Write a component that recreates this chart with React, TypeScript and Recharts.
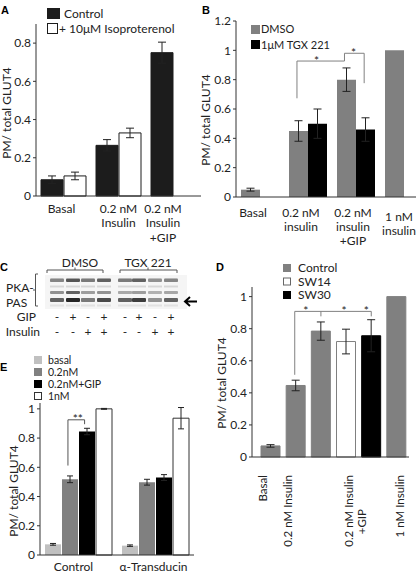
import React from 'react';
import { BarChart, Bar, XAxis, YAxis, ErrorBar, Cell } from 'recharts';

const FONT = 'Lato, "Open Sans", sans-serif';
const INK = '#222';
const AXIS = '#333';

// ---- panel A ----
const aCategories = ['Basal', '0.2 nM\nInsulin', '0.2 nM\nInsulin\n+GIP'];
const aControl = [0.085, 0.265, 0.75];
const aControlErr = [0.02, 0.03, 0.055];
const aIso = [0.105, 0.33, null];
const aIsoErr = [0.02, 0.025, null];
const aTicks = [0, 0.2, 0.4, 0.6, 0.8];

// ---- panel B ----
const bCategories = ['Basal', '0.2 nM\ninsulin', '0.2 nM\ninsulin\n+GIP', '1 nM\ninsulin'];
const bDmso = [0.05, 0.45, 0.8, 1.0];
const bDmsoErr = [0.01, 0.07, 0.08, 0];
const bTgx = [null, 0.5, 0.46, null];
const bTgxErr = [null, 0.1, 0.08, null];
const bTicks = [0, 0.2, 0.4, 0.6, 0.8, 1, 1.2];
// significance brackets: x in category units, y in data units
const bBrackets = [
  [[1.27, 0.673], [1.27, 0.927], [2.26, 0.927], [2.26, 0.98], [2.67, 0.98], [2.67, 0.776]],
];
const bStars = [[1.68, 0.927], [2.45, 0.98]];

// ---- panel C (blot) ----
const blotLanes = [57, 73, 88, 104, 125, 139, 155, 171];
const blotTop = [0.5, 0.7, 0.55, 0.65, 0.55, 0.65, 0.45, 0.5];
const blotUpper = [0.45, 0.65, 0.4, 0.45, 0.35, 0.4, 0.28, 0.32];
const blotLower = [0.65, 0.9, 0.55, 0.75, 0.65, 0.8, 0.45, 0.65];
const gipSigns = ['-', '+', '-', '+', '-', '+', '-', '+'];
const insulinSigns = ['-', '-', '+', '+', '-', '-', '+', '+'];

// ---- panel D ----
const dCategories = ['Basal', '0.2 nM Insulin', '0.2 nM Insulin\n+GIP', '1 nM Insulin'];
const dControl = [0.069, 0.446, 0.785, 1.0];
const dControlErr = [0.008, 0.033, 0.057, 0];
const dSw14 = [null, null, 0.72, null];
const dSw14Err = [null, null, 0.077, null];
const dSw30 = [null, null, 0.756, null];
const dSw30Err = [null, null, 0.1, null];
const dTicks = [0, 0.2, 0.4, 0.6, 0.8, 1];
const dBrackets = [
  [[1.46, 0.5125], [1.46, 0.908], [4.5, 0.908], [4.5, 0.877]],
  [[2.5, 0.908], [2.5, 0.877]],
];
const dStars = [[1.9, 0.908], [3.42, 0.908], [4.3, 0.908]];
const dLegend = ['Control', 'SW14', 'SW30'];

// ---- panel E ----
const eCategories = ['Control', 'α-Transducin'];
const eBasal = [0.073, 0.064];
const eBasalErr = [0.006, 0.005];
const e02 = [0.518, 0.498];
const e02Err = [0.023, 0.02];
const e02Gip = [0.845, 0.53];
const e02GipErr = [0.022, 0.02];
const e1 = [1.0, 0.936];
const e1Err = [0.003, 0.073];
const eTicks = [0, 0.2, 0.4, 0.6, 0.8, 1];
const eBrackets = [[[0.363, 0.612], [0.363, 0.925], [0.579, 0.925], [0.579, 0.895]]];
const eStars = [[0.49, 0.925]];
const eLegend = ['basal', '0.2nM', '0.2nM+GIP', '1nM'];

const aRows = aCategories.map((name, i) => ({
  name, control: aControl[i], controlErr: aControlErr[i], iso: aIso[i], isoErr: aIsoErr[i],
}));
const bRows = bCategories.map((name, i) => ({
  name, dmso: bDmso[i], dmsoErr: bDmsoErr[i], tgx: bTgx[i], tgxErr: bTgxErr[i],
}));
const eRows = eCategories.map((name, i) => ({
  name, basal: eBasal[i], basalErr: eBasalErr[i], n02: e02[i], n02Err: e02Err[i],
  gip: e02Gip[i], gipErr: e02GipErr[i], n1: e1[i], n1Err: e1Err[i],
}));
const eFills = ['#c0c0c0', '#808080', '#000000', '#ffffff'];

const dSeries = [
  { key: 'control', values: dControl, errs: dControlErr },
  { key: 'sw14', values: dSw14, errs: dSw14Err },
  { key: 'sw30', values: dSw30, errs: dSw30Err },
];
const dColors: Record<string, { fill: string; stroke: string }> = {
  control: { fill: '#808080', stroke: '#808080' },
  sw14: { fill: '#ffffff', stroke: '#808080' },
  sw30: { fill: '#000000', stroke: '#000000' },
};
// one slot per bar, the category label sits under the middle bar of its group
const dRows = dCategories.flatMap((name, i) => {
  const present = dSeries.filter((s) => s.values[i] != null);
  return present.map((s, j) => ({
    id: `${i}-${s.key}`,
    cat: i,
    label: j === Math.floor(present.length / 2) ? name : '',
    series: s.key,
    value: s.values[i],
    err: s.errs[i],
  }));
});

// plot boxes in page pixels (used for chart margins and for the bracket overlay)
type Geo = { x: number; y: number; w: number; h: number; left: number; right: number; top: number; bottom: number; max: number; bands: number; pad?: number };
const gA: Geo = { x: 0, y: 0, w: 210, h: 245, left: 36, right: 201, top: 24, bottom: 196, max: 0.9, bands: 3 };
const gB: Geo = { x: 200, y: 0, w: 240, h: 250, left: 236, right: 428, top: 21, bottom: 197, max: 1.2, bands: 4 };
const gD: Geo = { x: 200, y: 250, w: 216, h: 310, left: 252, right: 409, top: 287, bottom: 457, max: 1.06, bands: 6, pad: 6 };
const gE: Geo = { x: 0, y: 340, w: 210, h: 233, left: 40, right: 194, top: 403, bottom: 555, max: 1.04, bands: 2 };

function toPx(g: Geo, sx: number, v: number) {
  const x0 = g.left + (g.pad ?? 0);
  return [x0 + (sx * (g.right - x0)) / g.bands, g.bottom - (v / g.max) * (g.bottom - g.top)];
}

function margin(g: Geo, yAxisW: number, xAxisH: number) {
  return {
    top: g.top - g.y,
    right: g.x + g.w - g.right,
    bottom: g.y + g.h - g.bottom - xAxisH,
    left: g.left - g.x - yAxisW,
  };
}

function multiLineTick(first: number, lineH: number, dxs: number[] = [], dys: number[] = []) {
  return function Tick(props: any) {
    const { x, y, payload, index } = props;
    const lines = String(payload.value).split('\n');
    const dx = dxs[index] ?? 0;
    const dy = dys[index] ?? 0;
    return (
      <text x={x + dx} y={y + first + dy} textAnchor="middle" fontSize={12} fontFamily={FONT} fill={INK}>
        {lines.map((line, i) => (
          <tspan key={i} x={x + dx} dy={i === 0 ? 0 : lineH}>{line}</tspan>
        ))}
      </text>
    );
  };
}

const dLabelDx: Record<number, number[]> = { 0: [-3.5], 1: [-3.5], 2: [7, 20], 3: [7.5] };

function DTick(props: any) {
  const { x, y, index } = props;
  const row = dRows[index];
  if (!row || !row.label) return <g />;
  const lines = row.label.split('\n');
  const dxs = dLabelDx[row.cat] ?? [0];
  return (
    <g>
      {lines.map((line, i) => (
        <text
          key={i}
          transform={`translate(${x + (dxs[i] ?? 0)},${y + 16 + (i === 0 ? 0 : 34)}) rotate(-90)`}
          textAnchor="end"
          fontSize={11.5}
          fontFamily={FONT}
          fill={INK}
        >
          {line}
        </text>
      ))}
    </g>
  );
}

const yTick = { fontSize: 12, fontFamily: FONT, fill: INK };

function Brackets({ g, lines, marks, text, color }: { g: Geo; lines: number[][][]; marks: number[][]; text: string; color: string }) {
  return (
    <g>
      {lines.map((pts, i) => (
        <polyline
          key={i}
          points={pts.map((p) => toPx(g, p[0], p[1]).join(',')).join(' ')}
          fill="none"
          stroke={color}
          strokeWidth={1}
        />
      ))}
      {marks.map((m, i) => {
        const [px, py] = toPx(g, m[0], m[1]);
        return (
          <text key={`m${i}`} x={px} y={py + 3.5} textAnchor="middle" fontSize={12} fontFamily={FONT} fill={INK}>
            {text}
          </text>
        );
      })}
    </g>
  );
}

function YTitle({ x, y }: { x: number; y: number }) {
  return (
    <text transform={`translate(${x},${y}) rotate(-90)`} textAnchor="middle" fontSize={12} fontFamily={FONT} fill={INK}>
      PM/ total GLUT4
    </text>
  );
}

function Swatch({ x, y, w, h, fill, stroke }: any) {
  return <rect x={x + 0.5} y={y + 0.5} width={w} height={h} fill={fill} stroke={stroke ?? fill} strokeWidth={1} />;
}

function Blot() {
  const bands = [
    { y: 278.5, h: 3.5, vals: blotTop },
    { y: 291, h: 3, vals: blotUpper },
    { y: 298, h: 4, vals: blotLower },
  ];
  return (
    <g>
      <defs>
        <filter id="blur" x="-20%" y="-50%" width="140%" height="200%">
          <feGaussianBlur stdDeviation="0.7" />
        </filter>
      </defs>
      <rect x={45} y={275} width={142} height={34} fill="#f5f5f5" />
      <g filter="url(#blur)">
        {blotLanes.map((cx, i) => (
          <g key={i}>
            <rect x={cx - 7} y={285.5} width={14} height={2} fill="#111" opacity={0.12} />
            <rect x={cx - 7} y={304.5} width={14} height={2} fill="#111" opacity={0.08} />
            {bands.map((b, j) => (
              <rect key={j} x={cx - 7} y={b.y} width={14} height={b.h} rx={1} fill="#111" opacity={b.vals[i]} />
            ))}
          </g>
        ))}
      </g>
      <path d="M47,273 L47,270 L103,270 L103,273 M75,270 L75,267.5" fill="none" stroke="#555" strokeWidth={1} />
      <path d="M120,273 L120,270 L177,270 L177,273 M148,270 L148,267.5" fill="none" stroke="#555" strokeWidth={1} />
      <text x={80} y={267} textAnchor="middle" fontSize={12} fontFamily={FONT} fill={INK}>DMSO</text>
      <text x={148} y={267} textAnchor="middle" fontSize={12} fontFamily={FONT} fill={INK}>TGX 221</text>
      <path d="M38,274 L35.5,274 L35.5,306 L38,306 M35.5,290 L33,290" fill="none" stroke="#555" strokeWidth={1} />
      <text x={6} y={292} fontSize={12} fontFamily={FONT} fill={INK}>PKA-</text>
      <text x={6} y={307} fontSize={12} fontFamily={FONT} fill={INK}>PAS</text>
      <path d="M185,301.5 L197,301.5 M190,297 L185,301.5 L190,306" fill="none" stroke="#000" strokeWidth={2} />
      <text x={36} y={321} textAnchor="end" fontSize={12} fontFamily={FONT} fill={INK}>GIP</text>
      <text x={40} y={335.5} textAnchor="end" fontSize={12} fontFamily={FONT} fill={INK}>Insulin</text>
      {blotLanes.map((cx, i) => (
        <g key={`s${i}`}>
          <text x={cx} y={321} textAnchor="middle" fontSize={12} fontFamily={FONT} fill={INK}>{gipSigns[i]}</text>
          <text x={cx} y={335.5} textAnchor="middle" fontSize={12} fontFamily={FONT} fill={INK}>{insulinSigns[i]}</text>
        </g>
      ))}
    </g>
  );
}

const boxStyle = (g: Geo): React.CSSProperties => ({ position: 'absolute', left: g.x, top: g.y });

export default function App() {
  return (
    <div style={{ position: 'absolute', left: 0, top: 0, width: 416, height: 573, overflow: 'hidden', background: '#fff', fontFamily: FONT }}>
      {/* A */}
      <div style={boxStyle(gA)}>
        <BarChart width={gA.w} height={gA.h} data={aRows} margin={margin(gA, 36, 40)} barGap={1}>
          <XAxis dataKey="name" height={40} interval={0} tickLine={false} tickSize={0} axisLine={{ stroke: AXIS }}
            tick={multiLineTick(15, 14.3, [-2, 0, -10.5])} />
          <YAxis width={36} domain={[0, gA.max]} ticks={aTicks} tickSize={3} tickMargin={2} tick={yTick}
            axisLine={{ stroke: AXIS }} tickLine={{ stroke: AXIS }} />
          <Bar dataKey="control" barSize={22} fill="#1c1c1c" stroke="#1c1c1c" isAnimationActive={false}>
            <ErrorBar dataKey="controlErr" width={4} stroke={INK} strokeWidth={1} direction="y" />
          </Bar>
          <Bar dataKey="iso" barSize={22} fill="#ffffff" stroke="#1c1c1c" isAnimationActive={false}>
            <ErrorBar dataKey="isoErr" width={4} stroke={INK} strokeWidth={1} direction="y" />
          </Bar>
        </BarChart>
      </div>

      {/* B */}
      <div style={boxStyle(gB)}>
        <BarChart width={gB.w} height={gB.h} data={bRows} margin={margin(gB, 36, 45)} barGap={0}>
          <XAxis dataKey="name" height={45} interval={0} tickLine={false} tickSize={0} axisLine={{ stroke: AXIS }}
            tick={multiLineTick(18, 13.8, [-7, -7, -3, -5], [0, 0, 0, 4])} />
          <YAxis width={36} domain={[0, gB.max]} ticks={bTicks} tickSize={3} tickMargin={2} tick={yTick}
            axisLine={{ stroke: AXIS }} tickLine={{ stroke: AXIS }} />
          <Bar dataKey="dmso" barSize={19} fill="#808080" isAnimationActive={false}>
            <ErrorBar dataKey="dmsoErr" width={4} stroke={INK} strokeWidth={1} direction="y" />
          </Bar>
          <Bar dataKey="tgx" barSize={19} fill="#000000" isAnimationActive={false}>
            <ErrorBar dataKey="tgxErr" width={4} stroke={INK} strokeWidth={1} direction="y" />
          </Bar>
        </BarChart>
      </div>

      {/* D */}
      <div style={boxStyle(gD)}>
        <BarChart width={gD.w} height={gD.h} data={dRows} margin={margin(gD, 36, 95)}>
          <XAxis dataKey="id" height={95} interval={0} tickLine={false} tickSize={0} axisLine={{ stroke: AXIS }}
            padding={{ left: gD.pad ?? 0, right: 0 }} tick={DTick} />
          <YAxis width={36} domain={[0, gD.max]} ticks={dTicks} tickSize={3} tickMargin={2} tick={yTick}
            axisLine={{ stroke: AXIS }} tickLine={{ stroke: AXIS }} />
          <Bar dataKey="value" barSize={19} isAnimationActive={false}>
            {dRows.map((r) => (
              <Cell key={r.id} fill={dColors[r.series].fill} stroke={dColors[r.series].stroke} />
            ))}
            <ErrorBar dataKey="err" width={4} stroke={INK} strokeWidth={1} direction="y" />
          </Bar>
        </BarChart>
      </div>

      {/* E */}
      <div style={boxStyle(gE)}>
        <BarChart width={gE.w} height={gE.h} data={eRows} margin={margin(gE, 40, 18)} barGap={1}>
          <XAxis dataKey="name" height={18} interval={0} tickLine={false} tickSize={0} axisLine={{ stroke: AXIS }}
            tick={multiLineTick(13.5, 14, [-5, -2])} />
          <YAxis width={40} domain={[0, gE.max]} ticks={eTicks} tickSize={3} tickMargin={2} tick={yTick}
            axisLine={{ stroke: AXIS }} tickLine={{ stroke: AXIS }} />
          <Bar dataKey="basal" barSize={16} fill={eFills[0]} isAnimationActive={false}>
            <ErrorBar dataKey="basalErr" width={3} stroke={INK} strokeWidth={1} direction="y" />
          </Bar>
          <Bar dataKey="n02" barSize={16} fill={eFills[1]} isAnimationActive={false}>
            <ErrorBar dataKey="n02Err" width={3} stroke={INK} strokeWidth={1} direction="y" />
          </Bar>
          <Bar dataKey="gip" barSize={16} fill={eFills[2]} isAnimationActive={false}>
            <ErrorBar dataKey="gipErr" width={3} stroke={INK} strokeWidth={1} direction="y" />
          </Bar>
          <Bar dataKey="n1" barSize={16} fill={eFills[3]} stroke="#333" isAnimationActive={false}>
            <ErrorBar dataKey="n1Err" width={3} stroke={INK} strokeWidth={1} direction="y" />
          </Bar>
        </BarChart>
      </div>

      {/* overlay: panel letters, axis titles, legends, brackets, blot */}
      <svg width={416} height={573} style={{ position: 'absolute', left: 0, top: 0, pointerEvents: 'none' }}>
        <g fontFamily="Liberation Sans, Arial, sans-serif" fontWeight="bold" fontSize={11} fill="#000">
          <text x={1} y={14}>A</text>
          <text x={202} y={14}>B</text>
          <text x={0} y={271}>C</text>
          <text x={216} y={271}>D</text>
          <text x={0} y={371}>E</text>
        </g>
        <YTitle x={11} y={113} />
        <YTitle x={210} y={120} />
        <YTitle x={226} y={383} />
        <YTitle x={18} y={491} />

        <Brackets g={gB} lines={bBrackets} marks={bStars} text="*" color="#808080" />
        <Brackets g={gD} lines={dBrackets} marks={dStars} text="*" color="#808080" />
        <Brackets g={gE} lines={eBrackets} marks={eStars} text="**" color="#555" />

        {/* legend A */}
        <Swatch x={47} y={8} w={12} h={10} fill="#1c1c1c" />
        <text x={64} y={18} fontSize={12} fontFamily={FONT} fill={INK}>Control</text>
        <Swatch x={47} y={23} w={10} h={10} fill="#fff" stroke="#1c1c1c" />
        <text x={59} y={33} fontSize={12} fontFamily={FONT} fill={INK}>+ 10μM Isoproterenol</text>

        {/* legend B */}
        <Swatch x={251} y={25} w={8} h={8} fill="#808080" />
        <text x={261} y={33} fontSize={11} fontFamily={FONT} fill={INK}>DMSO</text>
        <Swatch x={251} y={40} w={8} h={8} fill="#000" />
        <text x={261} y={48.5} fontSize={11} fontFamily={FONT} fill={INK}>1μM TGX 221</text>

        {/* legend D */}
        {dLegend.map((name, i) => {
          const c = dColors[dSeries[i].key];
          return (
            <g key={name}>
              <Swatch x={283} y={264 + i * 13.5} w={7} h={7} fill={c.fill} stroke={i === 1 ? '#666' : c.stroke} />
              <text x={298} y={272 + i * 13.5} fontSize={12} fontFamily={FONT} fill={INK}>{name}</text>
            </g>
          );
        })}

        {/* legend E */}
        {eLegend.map((name, i) => (
          <g key={name}>
            <Swatch x={34} y={356 + i * 12} w={7} h={7} fill={eFills[i]} stroke={i === 3 ? '#333' : eFills[i]} />
            <text x={48} y={364 + i * 12} fontSize={10.5} fontFamily={FONT} fill={INK}>{name}</text>
          </g>
        ))}

        <Blot />
      </svg>
    </div>
  );
}
